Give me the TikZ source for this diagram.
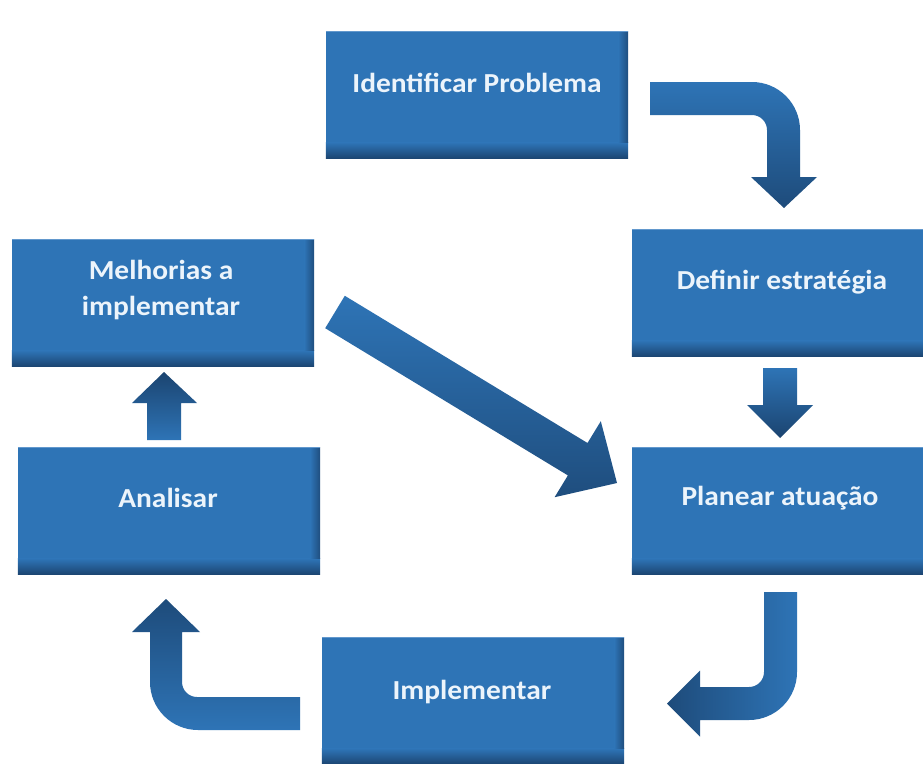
\documentclass[tikz,border=0pt]{standalone}
\usepackage{fontspec}
\setmainfont{Carlito}
\begin{document}
\begin{tikzpicture}[x=1pt,y=-1pt]
\definecolor{boxblue}{RGB}{46,116,182}
\definecolor{boxdark}{RGB}{27,68,112}
\definecolor{boxlight}{RGB}{98,152,205}
\definecolor{labeltext}{RGB}{236,244,251}
\tikzset{
  stepbox/.style={rectangle, inner sep=0pt, fill=boxblue,
    minimum width=302pt, minimum height=127pt},
  steptext/.style={font=\bfseries\fontsize{27.5}{36}\selectfont\addfontfeature{FakeStretch=1.07},
    text=labeltext, align=center, inner sep=0pt},
  blockarrow/.style={draw=none}
}
% page
\fill[white] (0,0) rectangle (923,763);
\useasboundingbox (0,0) rectangle (923,763);

% step boxes (the two on the right run past the page edge)
\node[stepbox] (ident) at (477,95)    {};
\node[stepbox, minimum width=300pt] (defin) at (782,293) {};
\node[stepbox, minimum width=300pt] (plan)  at (782,511) {};
\node[stepbox] (impl)  at (473,701) {};
\node[stepbox] (anal)  at (169,511) {};
\node[stepbox] (melh)  at (163,303) {};

% bevel: darker bottom and right edges, light top edge
\foreach \b in {ident,defin,plan,impl,anal,melh} {
  \shade[top color=boxblue, bottom color=boxdark]
    ([yshift=16pt]\b.south west) rectangle (\b.south east);
  \shade[left color=boxblue, right color=boxdark!80!boxblue]
    ([xshift=-10pt]\b.north east) rectangle ([yshift=16pt]\b.south east);
  \draw[boxlight, line width=1.2pt] (\b.north west) -- (\b.north east);
}

% box labels
\node[steptext] (ident-t) at (477,83)  {Identificar Problema};
\node[steptext] (defin-t) at (782,282) {Definir estratégia};
\node[steptext] (plan-t)  at (780,498) {Planear atuação};
\node[steptext] (impl-t)  at (472,692) {Implementar};
\node[steptext] (anal-t)  at (168,498) {Analisar};
\node[steptext] (melh-t)  at (161,290) {Melhorias a\\implementar};

% block arrows
% ident -> defin (bent to the right and down)
\shade[blockarrow, top color=boxblue, bottom color=boxdark!85!boxblue]
  (650,82) -- (752,82) .. controls (778.5,82) and (800,103.5) .. (800,130)
  -- (800,177) -- (817,177) -- (784,208) -- (751,177) -- (767,177)
  -- (767,130) .. controls (767,121.7) and (760.3,115) .. (752,115)
  -- (650,115) -- cycle;

% defin -> plan
\shade[blockarrow, top color=boxblue, bottom color=boxdark]
  (763,368) -- (797,368) -- (797,405) -- (813,405) -- (780,438)
  -- (747,405) -- (763,405) -- cycle;

% plan -> impl (down, then bent to the left)
\shade[blockarrow, left color=boxdark!85!boxblue, right color=boxblue]
  (764,592) -- (797,592) -- (797,672)
  .. controls (797,698.5) and (775.5,720) .. (749,720)
  -- (700,720) -- (700,736.5) -- (667,703.5) -- (700,670.5) -- (700,687)
  -- (749,687) .. controls (757.3,687) and (764,680.3) .. (764,672)
  -- cycle;

% impl -> anal (left, then bent upwards)
\shade[blockarrow, top color=boxdark!85!boxblue, bottom color=boxblue]
  (300,697) -- (197,697) .. controls (188.7,697) and (182,690.3) .. (182,682)
  -- (182,632) -- (200,632) -- (166,599) -- (132,632) -- (150,632)
  -- (150,682) .. controls (150,708.5) and (171.5,730) .. (198,730)
  -- (300,730) -- cycle;

% anal -> melh
\shade[blockarrow, top color=boxdark, bottom color=boxblue]
  (147,440) -- (147,403) -- (132,403) -- (164,372) -- (197,403)
  -- (181,403) -- (181,440) -- cycle;

% melh -> plan (diagonal)
\shade[blockarrow, shading angle=58, top color=boxblue, bottom color=boxdark!80!boxblue]
  (325.2,328.2) -- (344.8,295.8) -- (587.5,443.0) -- (600.8,421.2)
  -- (617,483) -- (554.6,497.2) -- (567.9,475.4) -- cycle;
\end{tikzpicture}
\end{document}
